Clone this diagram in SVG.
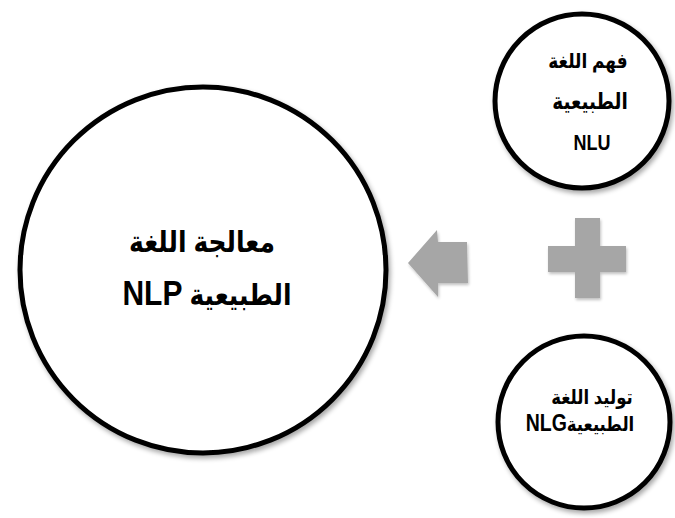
<svg xmlns="http://www.w3.org/2000/svg" width="675" height="518" viewBox="0 0 675 518">
<style>
.c{fill:#fff;stroke:#000;stroke-width:5;filter:url(#sh)}
.t{font-family:"Liberation Sans","DejaVu Sans",sans-serif;font-weight:bold;fill:#000;text-anchor:middle}
.g{fill:#a6a6a6;filter:url(#sh2)}
</style>
<defs>
<filter id="sh" x="-10%" y="-10%" width="125%" height="125%">
<feGaussianBlur in="SourceAlpha" stdDeviation="2.5"/>
<feOffset dx="2" dy="3" result="b"/>
<feComponentTransfer><feFuncA type="linear" slope="0.35"/></feComponentTransfer>
<feMerge><feMergeNode/><feMergeNode in="SourceGraphic"/></feMerge>
</filter>
<filter id="sh2" x="-20%" y="-20%" width="150%" height="150%">
<feGaussianBlur in="SourceAlpha" stdDeviation="1.5"/>
<feOffset dx="1" dy="2"/>
<feComponentTransfer><feFuncA type="linear" slope="0.25"/></feComponentTransfer>
<feMerge><feMergeNode/><feMergeNode in="SourceGraphic"/></feMerge>
</filter>
</defs>
<g id="nlp">
<circle class="c" cx="203" cy="270" r="183"/>
<text class="t" transform="translate(202,252) scale(1,1.18)" font-size="25" direction="rtl">معالجة اللغة</text>
<text class="t" transform="translate(207,305) scale(1,1.18)" font-size="25" direction="rtl">الطبيعية <tspan font-size="30">NLP</tspan></text>
</g>
<g id="nlu">
<circle class="c" cx="582" cy="101" r="87"/>
<text class="t" transform="translate(588,68) scale(1,1.2)" font-size="17" direction="rtl">فهم اللغة</text>
<text class="t" transform="translate(590,109) scale(1,1.2)" font-size="18.5" direction="rtl">الطبيعية</text>
<text class="t" transform="translate(592,150) scale(1,1.2)" font-size="18">NLU</text>
</g>
<g id="nlg">
<circle class="c" cx="584" cy="422" r="86"/>
<text class="t" transform="translate(592,404) scale(1,1.2)" font-size="16.5" direction="rtl">توليد اللغة</text>
<text class="t" transform="translate(580,431) scale(1,1.2)" font-size="16.5" direction="rtl">الطبيعية<tspan font-size="19.5">NLG</tspan></text>
</g>
<g id="plus">
<path class="g" d="M575,218 H600 V246 H626 V272 H600 V298 H575 V272 H548 V246 H575 Z"/>
</g>
<g id="connectors">
<path class="g" d="M408,263 L437,230 L438,242 L467,242 L468,283 L438,283 L438,297 Z"/>
</g>
</svg>
